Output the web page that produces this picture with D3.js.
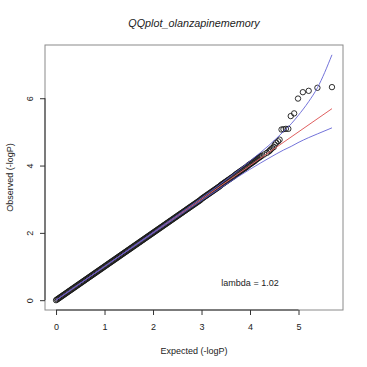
<!DOCTYPE html>
<html>
<head>
<meta charset="utf-8">
<script src="https://cdn.jsdelivr.net/npm/d3@7"></script>
<style>
  body { margin: 0; background: #fff; }
  text { font-family: "Liberation Sans", Arial, Helvetica, sans-serif; fill: #222; }
</style>
</head>
<body>
<svg width="367" height="367"></svg>
<script>
// observed vs expected -log10(p); the bulk of SNPs sits on the diagonal
const expected = [
  0.00, 0.02, 0.04, 0.06, 0.08, 0.10, 0.12, 0.14, 0.16, 0.18,
  0.20, 0.22, 0.24, 0.26, 0.28, 0.30, 0.32, 0.34, 0.36, 0.38,
  0.40, 0.42, 0.44, 0.46, 0.48, 0.50, 0.52, 0.54, 0.56, 0.58,
  0.60, 0.62, 0.64, 0.66, 0.68, 0.70, 0.72, 0.74, 0.76, 0.78,
  0.80, 0.82, 0.84, 0.86, 0.88, 0.90, 0.92, 0.94, 0.96, 0.98,
  1.00, 1.02, 1.04, 1.06, 1.08, 1.10, 1.12, 1.14, 1.16, 1.18,
  1.20, 1.22, 1.24, 1.26, 1.28, 1.30, 1.32, 1.34, 1.36, 1.38,
  1.40, 1.42, 1.44, 1.46, 1.48, 1.50, 1.52, 1.54, 1.56, 1.58,
  1.60, 1.62, 1.64, 1.66, 1.68, 1.70, 1.72, 1.74, 1.76, 1.78,
  1.80, 1.82, 1.84, 1.86, 1.88, 1.90, 1.92, 1.94, 1.96, 1.98,
  2.00, 2.02, 2.04, 2.06, 2.08, 2.10, 2.12, 2.14, 2.16, 2.18,
  2.20, 2.22, 2.24, 2.26, 2.28, 2.30, 2.32, 2.34, 2.36, 2.38,
  2.40, 2.42, 2.44, 2.46, 2.48, 2.50, 2.52, 2.54, 2.56, 2.58,
  2.60, 2.62, 2.64, 2.66, 2.68, 2.70, 2.72, 2.74, 2.76, 2.78,
  2.80, 2.82, 2.84, 2.86, 2.88, 2.90, 2.92, 2.94, 2.96, 2.98,
  3.00, 3.02, 3.04, 3.06, 3.08, 3.10, 3.12, 3.14, 3.16, 3.18,
  3.20, 3.22, 3.24, 3.26, 3.28, 3.30, 3.32, 3.34, 3.36, 3.38,
  3.40, 3.42, 3.44, 3.46, 3.48, 3.50, 3.52, 3.54, 3.56, 3.58,
  3.60, 3.62, 3.64, 3.66, 3.68, 3.70, 3.72, 3.74, 3.76, 3.78,
  3.80, 3.82, 3.84, 3.86, 3.88, 3.90, 3.92, 3.94, 3.96, 3.98,
  4.00, 4.02, 4.04, 4.06, 4.08, 4.10, 4.12, 4.14, 4.16, 4.18,
  4.20, 4.22, 4.24,
  // tail
  4.29, 4.35, 4.39, 4.41, 4.43, 4.46, 4.49, 4.51, 4.54, 4.58,
  4.61, 4.65, 4.69, 4.74, 4.79, 4.84, 4.91, 4.99, 5.09, 5.21,
  5.39, 5.69
];
const observed = [
  0.00, 0.02, 0.04, 0.06, 0.08, 0.10, 0.12, 0.14, 0.16, 0.18,
  0.20, 0.22, 0.24, 0.26, 0.28, 0.30, 0.32, 0.34, 0.36, 0.38,
  0.40, 0.42, 0.44, 0.46, 0.48, 0.50, 0.52, 0.54, 0.56, 0.58,
  0.60, 0.62, 0.64, 0.66, 0.68, 0.70, 0.72, 0.74, 0.76, 0.78,
  0.80, 0.82, 0.84, 0.86, 0.88, 0.90, 0.92, 0.94, 0.96, 0.98,
  1.00, 1.02, 1.04, 1.06, 1.08, 1.10, 1.12, 1.14, 1.16, 1.18,
  1.20, 1.22, 1.24, 1.26, 1.28, 1.30, 1.32, 1.34, 1.36, 1.38,
  1.40, 1.42, 1.44, 1.46, 1.48, 1.50, 1.52, 1.54, 1.56, 1.58,
  1.60, 1.62, 1.64, 1.66, 1.68, 1.70, 1.72, 1.74, 1.76, 1.78,
  1.80, 1.82, 1.84, 1.86, 1.88, 1.90, 1.92, 1.94, 1.96, 1.98,
  2.00, 2.02, 2.04, 2.06, 2.08, 2.10, 2.12, 2.14, 2.16, 2.18,
  2.20, 2.22, 2.24, 2.26, 2.28, 2.30, 2.32, 2.34, 2.36, 2.38,
  2.40, 2.42, 2.44, 2.46, 2.48, 2.50, 2.52, 2.54, 2.56, 2.58,
  2.60, 2.62, 2.64, 2.66, 2.68, 2.70, 2.72, 2.74, 2.76, 2.78,
  2.80, 2.82, 2.84, 2.86, 2.88, 2.90, 2.92, 2.94, 2.96, 2.98,
  3.01, 3.03, 3.05, 3.07, 3.09, 3.11, 3.13, 3.15, 3.17, 3.19,
  3.21, 3.23, 3.25, 3.27, 3.29, 3.31, 3.33, 3.35, 3.37, 3.39,
  3.42, 3.44, 3.46, 3.48, 3.50, 3.52, 3.54, 3.56, 3.58, 3.60,
  3.62, 3.64, 3.66, 3.68, 3.70, 3.73, 3.75, 3.77, 3.79, 3.81,
  3.83, 3.85, 3.87, 3.89, 3.91, 3.93, 3.95, 3.97, 4.00, 4.02,
  4.04, 4.06, 4.08, 4.10, 4.12, 4.14, 4.17, 4.19, 4.21, 4.23,
  4.25, 4.27, 4.29,
  4.33, 4.38, 4.42, 4.45, 4.48, 4.52, 4.55, 4.62, 4.68, 4.72,
  4.77, 5.07, 5.08, 5.09, 5.09, 5.47, 5.55, 5.99, 6.18, 6.22,
  6.31, 6.33
];

// 95% band of the expected order statistics
const ciExpected = [0.00, 1.00, 1.69, 2.69, 2.99, 3.39, 3.69, 3.99, 4.21, 4.39, 4.69, 4.85, 4.99, 5.21, 5.39, 5.69];
const ciUpper    = [0.00, 1.00, 1.70, 2.72, 3.03, 3.45, 3.78, 4.12, 4.38, 4.60, 5.01, 5.24, 5.48, 5.90, 6.31, 7.29];
const ciLower    = [0.00, 1.00, 1.68, 2.66, 2.95, 3.33, 3.61, 3.88, 4.07, 4.22, 4.46, 4.57, 4.68, 4.83, 4.94, 5.12];

const xTicks = [0, 1, 2, 3, 4, 5];
const yTicks = [0, 2, 4, 6];
const lambdaLabel = "lambda = 1.02";

const svg = d3.select("svg");
const box = { left: 45, right: 343, top: 45, bottom: 310 };

// R style: data range padded by 4%
const xMax = 5.69, yMax = 7.29;
const x = d3.scaleLinear()
  .domain([-0.04 * xMax, xMax * 1.04])
  .range([box.left, box.right]);
const y = d3.scaleLinear()
  .domain([-0.04 * yMax, yMax * 1.04])
  .range([box.bottom, box.top]);

// points
svg.append("g")
  .selectAll("circle")
  .data(expected.map((e, i) => [e, observed[i]]))
  .join("circle")
  .attr("cx", d => x(d[0]))
  .attr("cy", d => y(d[1]))
  .attr("r", 2.7)
  .attr("fill", "none")
  .attr("stroke", "#1a1a1a")
  .attr("stroke-width", 0.9);

// diagonal, then CI lines on top
svg.append("line")
  .attr("x1", x(0)).attr("y1", y(0))
  .attr("x2", x(xMax)).attr("y2", y(xMax))
  .attr("stroke", "#e06060").attr("stroke-width", 1);

const ciLine = (vals) => d3.line()
  .x((d, i) => x(ciExpected[i]))
  .y(d => y(d))
  .curve(d3.curveMonotoneX)(vals);

svg.append("path")
  .attr("d", ciLine(ciUpper))
  .attr("fill", "none").attr("stroke", "#5a5ad2").attr("stroke-width", 1)
  .attr("stroke-opacity", 0.85);
svg.append("path")
  .attr("d", ciLine(ciLower))
  .attr("fill", "none").attr("stroke", "#5a5ad2").attr("stroke-width", 1)
  .attr("stroke-opacity", 0.85);

// box
svg.append("rect")
  .attr("x", box.left).attr("y", box.top)
  .attr("width", box.right - box.left).attr("height", box.bottom - box.top)
  .attr("fill", "none").attr("stroke", "#8a8a8a").attr("stroke-width", 1);

// x axis
const gx = svg.append("g")
  .attr("transform", `translate(0,${box.bottom})`)
  .call(d3.axisBottom(x).tickValues(xTicks).tickFormat(d3.format("d"))
    .tickSize(5).tickPadding(9).tickSizeOuter(0));
gx.select(".domain").remove();
gx.append("line")
  .attr("x1", x(xTicks[0])).attr("x2", x(xTicks[xTicks.length - 1]))
  .attr("stroke", "#333");
gx.selectAll(".tick line").attr("stroke", "#333");
gx.selectAll(".tick text").style("font-size", "9px").attr("fill", "#222");

// y axis
const gy = svg.append("g")
  .attr("transform", `translate(${box.left},0)`)
  .call(d3.axisLeft(y).tickValues(yTicks).tickFormat(d3.format("d"))
    .tickSize(5).tickSizeOuter(0));
gy.select(".domain").remove();
gy.append("line")
  .attr("y1", y(yTicks[0])).attr("y2", y(yTicks[yTicks.length - 1]))
  .attr("stroke", "#333");
gy.selectAll(".tick line").attr("stroke", "#333");
gy.selectAll(".tick text")
  .style("font-size", "9px").attr("fill", "#222")
  .attr("x", null).attr("dy", null)
  .attr("text-anchor", "middle")
  .attr("transform", "translate(-12,0) rotate(-90)");

// title and labels
svg.append("text")
  .attr("x", (box.left + box.right) / 2).attr("y", 27)
  .attr("text-anchor", "middle")
  .style("font-size", "10.8px").style("font-style", "italic")
  .text("QQplot_olanzapinememory");

svg.append("text")
  .attr("x", (box.left + box.right) / 2).attr("y", 354)
  .attr("text-anchor", "middle")
  .style("font-size", "9px")
  .text("Expected (-logP)");

svg.append("text")
  .attr("transform", `translate(12.5,${(box.top + box.bottom) / 2}) rotate(-90)`)
  .attr("text-anchor", "middle")
  .style("font-size", "9px")
  .text("Observed (-logP)");

svg.append("text")
  .attr("x", x(4)).attr("y", y(0.5) + 3)
  .attr("text-anchor", "middle")
  .style("font-size", "9px")
  .text(lambdaLabel);
</script>
</body>
</html>
